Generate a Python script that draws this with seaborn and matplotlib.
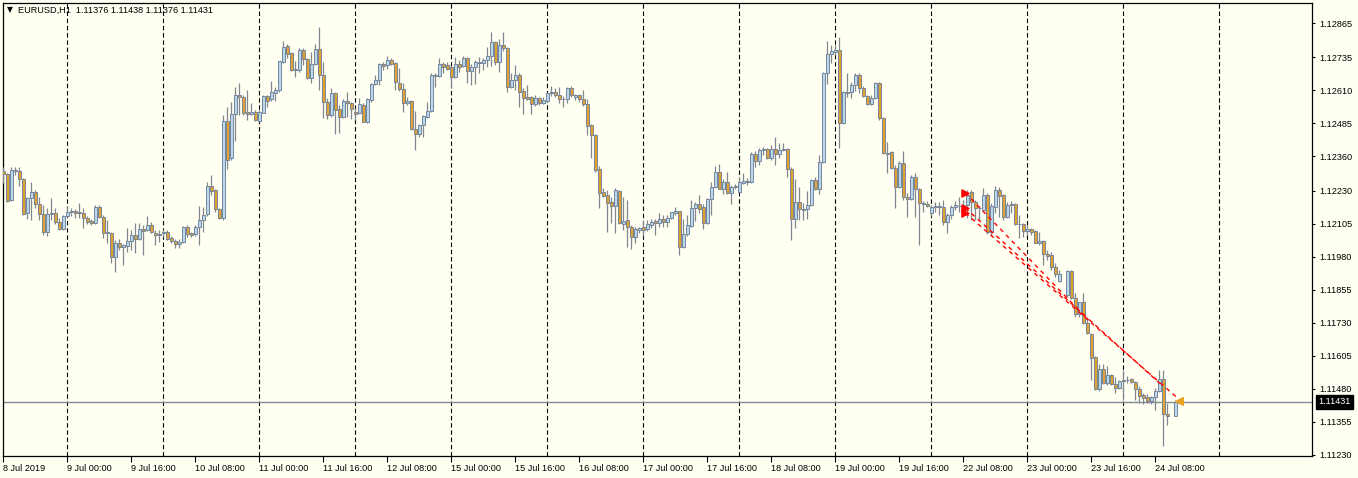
import numpy as np
import pandas as pd
import matplotlib.pyplot as plt
import seaborn as sns

nan = np.nan

# EURUSD H1 candles, 8 Jul 2019 08:00 .. 24 Jul 2019 (one entry per hour, nan = no bar)
opens = [
    1.12305, 1.12294, 1.12195, 1.12309, 1.12305, 1.12275, 1.12146, 1.12203, 1.12225, 1.12180,
    1.12142, 1.12074, 1.12142, 1.12146, 1.12111, 1.12085, 1.12134, 1.12149, 1.12153, 1.12149,
    1.12146, 1.12127, 1.12115, 1.12108, 1.12169, 1.12131, 1.12074, 1.12071, 1.11980, 1.12033,
    1.12018, 1.12021, 1.12040, 1.12063, 1.12048, 1.12085, 1.12082, 1.12100, 1.12071, 1.12063,
    1.12071, 1.12074, 1.12052, 1.12040, 1.12029, 1.12036, 1.12093, 1.12071, 1.12067, 1.12093,
    1.12119, 1.12142, 1.12248, 1.12233, 1.12161, 1.12127, 1.12494, 1.12354, 1.12521, 1.12592,
    1.12585, 1.12528, 1.12521, 1.12528, 1.12494, 1.12525, 1.12588, 1.12577, 1.12600, 1.12611,
    1.12717, 1.12778, 1.12752, 1.12687, 1.12687, 1.12763, 1.12729, 1.12657, 1.12710, 1.12767,
    1.12668, 1.12566, 1.12517, 1.12600, 1.12540, 1.12509, 1.12570, 1.12563, 1.12528, 1.12525,
    1.12555, 1.12490, 1.12574, 1.12634, 1.12649, 1.12710, 1.12706, 1.12725, 1.12714, 1.12638,
    1.12615, 1.12563, 1.12570, 1.12464, 1.12445, 1.12479, 1.12509, 1.12532, 1.12668, 1.12664,
    1.12710, 1.12706, 1.12698, 1.12661, 1.12710, 1.12702, 1.12733, 1.12683, 1.12698, 1.12717,
    1.12714, 1.12725, 1.12740, 1.12793, 1.12717, 1.12782, 1.12770, 1.12623, 1.12649, 1.12668,
    1.12607, 1.12585, 1.12585, 1.12559, 1.12581, 1.12563, 1.12570, 1.12600, 1.12604, 1.12592,
    1.12577, 1.12577, 1.12619, 1.12585, 1.12592, 1.12577, 1.12559, 1.12479, 1.12441, 1.12313,
    1.12225, 1.12214, 1.12187, 1.12172, 1.12229, 1.12104, 1.12119, 1.12093, 1.12056, 1.12082,
    1.12093, 1.12085, 1.12100, 1.12115, 1.12108, 1.12123, 1.12111, 1.12127, 1.12146, 1.12153,
    1.12018, 1.12067, 1.12096, 1.12165, 1.12180, 1.12169, 1.12108, 1.12199, 1.12244, 1.12301,
    1.12237, 1.12263, 1.12222, 1.12244, 1.12225, 1.12260, 1.12263, 1.12263, 1.12369, 1.12343,
    1.12384, 1.12388, 1.12354, 1.12388, 1.12369, 1.12384, 1.12388, 1.12313, 1.12123, 1.12187,
    1.12161, 1.12161, 1.12176, 1.12271, 1.12237, 1.12339, 1.12676, 1.12748, 1.12755, 1.12763,
    1.12487, 1.12604, 1.12604, 1.12630, 1.12668, 1.12619, 1.12588, 1.12559, 1.12581, 1.12638,
    1.12506, 1.12373, 1.12376, 1.12317, 1.12244, 1.12336, 1.12207, 1.12199, 1.12282, 1.12237,
    1.12184, 1.12180, 1.12146, 1.12169, 1.12172, 1.12169, 1.12111, 1.12138, 1.12169, 1.12172,
    1.12172, 1.12176, 1.12225, 1.12187, 1.12165, 1.12157, 1.12214, 1.12074, 1.12169, 1.12233,
    1.12214, 1.12131, 1.12176, 1.12180, 1.12104, 1.12104, 1.12078, 1.12085, 1.12078, 1.12033,
    1.12040, 1.11991, 1.11987, 1.11941, 1.11888, nan, 1.11836, 1.11926, 1.11825, 1.11764,
    1.11809, 1.11730, 1.11688, 1.11601, 1.11480, 1.11556, 1.11503, 1.11533, 1.11499, 1.11484,
    1.11510, 1.11514, 1.11518, 1.11506, 1.11480, 1.11457, 1.11450, 1.11434, 1.11450, 1.11472,
    1.11518, 1.11385, nan, 1.11376,
]
highs = [
    1.12321, 1.12298, 1.12321, 1.12321, 1.12321, 1.12279, 1.12207, 1.12263, 1.12233, 1.12207,
    1.12176, 1.12165, 1.12203, 1.12165, 1.12127, 1.12138, 1.12172, 1.12165, 1.12161, 1.12184,
    1.12165, 1.12134, 1.12123, 1.12176, 1.12176, 1.12138, 1.12119, 1.12074, 1.12044, 1.12048,
    1.12029, 1.12089, 1.12082, 1.12108, 1.12108, 1.12100, 1.12134, 1.12111, 1.12082, 1.12082,
    1.12085, 1.12082, 1.12059, 1.12048, 1.12048, 1.12096, 1.12100, 1.12074, 1.12100, 1.12172,
    1.12169, 1.12263, 1.12290, 1.12237, 1.12165, 1.12517, 1.12548, 1.12566, 1.12623, 1.12638,
    1.12592, 1.12611, 1.12563, 1.12536, 1.12536, 1.12592, 1.12592, 1.12645, 1.12623, 1.12721,
    1.12797, 1.12786, 1.12755, 1.12721, 1.12770, 1.12770, 1.12733, 1.12755, 1.12786, 1.12850,
    1.12717, 1.12581, 1.12619, 1.12604, 1.12555, 1.12577, 1.12604, 1.12566, 1.12544, 1.12581,
    1.12563, 1.12581, 1.12638, 1.12668, 1.12714, 1.12717, 1.12740, 1.12733, 1.12717, 1.12695,
    1.12638, 1.12585, 1.12574, 1.12532, 1.12483, 1.12517, 1.12566, 1.12676, 1.12676, 1.12733,
    1.12717, 1.12717, 1.12698, 1.12736, 1.12725, 1.12740, 1.12736, 1.12710, 1.12725, 1.12736,
    1.12733, 1.12774, 1.12831, 1.12797, 1.12805, 1.12831, 1.12774, 1.12676, 1.12706, 1.12676,
    1.12619, 1.12630, 1.12588, 1.12592, 1.12585, 1.12585, 1.12604, 1.12626, 1.12619, 1.12623,
    1.12588, 1.12623, 1.12626, 1.12596, 1.12596, 1.12611, 1.12577, 1.12483, 1.12445, 1.12324,
    1.12240, 1.12233, 1.12207, 1.12240, 1.12233, 1.12207, 1.12195, 1.12100, 1.12093, 1.12093,
    1.12119, 1.12119, 1.12123, 1.12123, 1.12146, 1.12138, 1.12138, 1.12149, 1.12169, 1.12153,
    1.12123, 1.12138, 1.12195, 1.12187, 1.12214, 1.12180, 1.12203, 1.12263, 1.12324, 1.12332,
    1.12275, 1.12301, 1.12252, 1.12256, 1.12282, 1.12298, 1.12279, 1.12376, 1.12380, 1.12392,
    1.12395, 1.12392, 1.12403, 1.12433, 1.12411, 1.12411, 1.12392, 1.12321, 1.12275, 1.12244,
    1.12184, 1.12229, 1.12275, 1.12282, 1.12365, 1.12679, 1.12797, 1.12782, 1.12782, 1.12812,
    1.12607, 1.12676, 1.12642, 1.12676, 1.12676, 1.12626, 1.12592, 1.12592, 1.12642, 1.12642,
    1.12509, 1.12414, 1.12380, 1.12328, 1.12343, 1.12380, 1.12222, 1.12290, 1.12298, 1.12240,
    1.12191, 1.12191, 1.12176, 1.12187, 1.12187, 1.12195, 1.12146, 1.12176, 1.12191, 1.12207,
    1.12195, 1.12233, 1.12233, 1.12195, 1.12172, 1.12240, 1.12222, 1.12184, 1.12248, 1.12244,
    1.12218, 1.12187, 1.12191, 1.12184, 1.12138, 1.12108, 1.12100, 1.12089, 1.12082, 1.12074,
    1.12044, 1.12006, 1.11998, 1.11957, 1.11930, nan, 1.11930, 1.11930, 1.11844, 1.11809,
    1.11844, 1.11753, 1.11692, 1.11605, 1.11575, 1.11575, 1.11567, 1.11537, 1.11525, 1.11514,
    1.11552, 1.11529, 1.11522, 1.11510, 1.11491, 1.11465, 1.11461, 1.11453, 1.11484, 1.11552,
    1.11552, 1.11427, nan, 1.11438,
]
lows = [
    1.12260, 1.12187, 1.12191, 1.12290, 1.12248, 1.12138, 1.12123, 1.12119, 1.12165, 1.12119,
    1.12063, 1.12059, 1.12119, 1.12104, 1.12082, 1.12082, 1.12131, 1.12134, 1.12127, 1.12127,
    1.12089, 1.12104, 1.12100, 1.12104, 1.12127, 1.12052, 1.12033, 1.11957, 1.11922, 1.12006,
    1.11949, 1.11998, 1.12006, 1.11995, 1.12044, 1.11987, 1.12078, 1.12071, 1.12025, 1.12036,
    1.12056, 1.12044, 1.12033, 1.12014, 1.12014, 1.12033, 1.12056, 1.12056, 1.12059, 1.12025,
    1.12074, 1.12134, 1.12214, 1.12149, 1.12123, 1.12119, 1.12313, 1.12347, 1.12418, 1.12517,
    1.12517, 1.12498, 1.12517, 1.12494, 1.12490, 1.12525, 1.12548, 1.12570, 1.12570, 1.12604,
    1.12714, 1.12733, 1.12683, 1.12661, 1.12679, 1.12706, 1.12653, 1.12638, 1.12706, 1.12611,
    1.12506, 1.12502, 1.12509, 1.12445, 1.12449, 1.12506, 1.12509, 1.12502, 1.12498, 1.12521,
    1.12490, 1.12487, 1.12566, 1.12630, 1.12630, 1.12687, 1.12691, 1.12706, 1.12611, 1.12607,
    1.12528, 1.12555, 1.12460, 1.12384, 1.12434, 1.12434, 1.12506, 1.12528, 1.12623, 1.12661,
    1.12676, 1.12687, 1.12619, 1.12657, 1.12679, 1.12698, 1.12638, 1.12630, 1.12634, 1.12676,
    1.12687, 1.12698, 1.12702, 1.12706, 1.12679, 1.12759, 1.12604, 1.12619, 1.12611, 1.12548,
    1.12521, 1.12574, 1.12521, 1.12551, 1.12555, 1.12559, 1.12566, 1.12588, 1.12585, 1.12563,
    1.12548, 1.12563, 1.12585, 1.12574, 1.12566, 1.12551, 1.12441, 1.12354, 1.12301, 1.12165,
    1.12207, 1.12074, 1.12108, 1.12071, 1.12104, 1.12082, 1.12018, 1.12010, 1.12033, 1.12071,
    1.12059, 1.12078, 1.12089, 1.12063, 1.12093, 1.12093, 1.12093, 1.12123, 1.12138, 1.11987,
    1.12014, 1.12059, 1.12093, 1.12115, 1.12146, 1.12085, 1.12104, 1.12138, 1.12240, 1.12237,
    1.12218, 1.12218, 1.12180, 1.12237, 1.12225, 1.12256, 1.12252, 1.12260, 1.12321, 1.12328,
    1.12365, 1.12350, 1.12347, 1.12328, 1.12354, 1.12380, 1.12282, 1.12044, 1.12089, 1.12119,
    1.12119, 1.12123, 1.12172, 1.12233, 1.12218, 1.12336, 1.12634, 1.12714, 1.12744, 1.12392,
    1.12483, 1.12585, 1.12581, 1.12607, 1.12600, 1.12585, 1.12555, 1.12555, 1.12577, 1.12498,
    1.12369, 1.12298, 1.12313, 1.12165, 1.12240, 1.12195, 1.12131, 1.12195, 1.12131, 1.12025,
    1.12149, 1.12169, 1.12134, 1.12149, 1.12138, 1.12100, 1.12071, 1.12123, 1.12157, 1.12149,
    1.12149, 1.12127, 1.12119, 1.12119, 1.12119, 1.12149, 1.12067, 1.12063, 1.12146, 1.12131,
    1.12119, 1.12127, 1.12146, 1.12100, 1.12052, 1.12056, 1.12063, 1.12063, 1.12033, 1.12025,
    1.11949, 1.11968, 1.11930, 1.11904, 1.11885, nan, 1.11829, 1.11821, 1.11753, 1.11753,
    1.11726, 1.11688, 1.11514, 1.11476, 1.11472, 1.11499, 1.11495, 1.11495, 1.11465, 1.11480,
    1.11438, 1.11503, 1.11503, 1.11438, 1.11427, 1.11423, 1.11427, 1.11423, 1.11400, 1.11468,
    1.11264, 1.11343, nan, 1.11376,
]
closes = [
    1.12294, 1.12191, 1.12309, 1.12305, 1.12275, 1.12142, 1.12203, 1.12225, 1.12180, 1.12142,
    1.12074, 1.12142, 1.12146, 1.12111, 1.12085, 1.12134, 1.12149, 1.12153, 1.12146, 1.12146,
    1.12127, 1.12111, 1.12108, 1.12169, 1.12131, 1.12071, 1.12071, 1.11980, 1.12033, 1.12018,
    1.12025, 1.12040, 1.12063, 1.12048, 1.12085, 1.12078, 1.12100, 1.12074, 1.12063, 1.12067,
    1.12074, 1.12048, 1.12040, 1.12029, 1.12036, 1.12093, 1.12067, 1.12063, 1.12093, 1.12119,
    1.12138, 1.12248, 1.12229, 1.12161, 1.12127, 1.12494, 1.12347, 1.12521, 1.12592, 1.12585,
    1.12525, 1.12521, 1.12528, 1.12498, 1.12528, 1.12588, 1.12570, 1.12604, 1.12611, 1.12721,
    1.12774, 1.12748, 1.12687, 1.12691, 1.12763, 1.12729, 1.12657, 1.12710, 1.12767, 1.12668,
    1.12566, 1.12517, 1.12600, 1.12536, 1.12509, 1.12570, 1.12563, 1.12540, 1.12521, 1.12559,
    1.12490, 1.12577, 1.12634, 1.12649, 1.12710, 1.12702, 1.12725, 1.12710, 1.12642, 1.12615,
    1.12563, 1.12570, 1.12464, 1.12445, 1.12479, 1.12513, 1.12532, 1.12668, 1.12664, 1.12710,
    1.12698, 1.12691, 1.12661, 1.12710, 1.12698, 1.12733, 1.12683, 1.12698, 1.12717, 1.12714,
    1.12725, 1.12740, 1.12793, 1.12717, 1.12782, 1.12770, 1.12623, 1.12649, 1.12668, 1.12604,
    1.12581, 1.12577, 1.12559, 1.12581, 1.12563, 1.12574, 1.12600, 1.12604, 1.12592, 1.12577,
    1.12576, 1.12619, 1.12592, 1.12592, 1.12577, 1.12559, 1.12475, 1.12441, 1.12309, 1.12222,
    1.12210, 1.12184, 1.12172, 1.12233, 1.12108, 1.12115, 1.12093, 1.12056, 1.12085, 1.12089,
    1.12082, 1.12104, 1.12111, 1.12108, 1.12123, 1.12111, 1.12127, 1.12149, 1.12153, 1.12018,
    1.12067, 1.12100, 1.12165, 1.12180, 1.12161, 1.12108, 1.12199, 1.12244, 1.12301, 1.12237,
    1.12263, 1.12222, 1.12244, 1.12248, 1.12263, 1.12267, 1.12267, 1.12369, 1.12343, 1.12384,
    1.12388, 1.12354, 1.12388, 1.12369, 1.12384, 1.12388, 1.12313, 1.12123, 1.12187, 1.12161,
    1.12157, 1.12176, 1.12271, 1.12237, 1.12339, 1.12676, 1.12748, 1.12759, 1.12763, 1.12487,
    1.12604, 1.12600, 1.12630, 1.12668, 1.12619, 1.12588, 1.12559, 1.12581, 1.12638, 1.12506,
    1.12373, 1.12369, 1.12317, 1.12244, 1.12336, 1.12207, 1.12199, 1.12282, 1.12237, 1.12184,
    1.12180, 1.12172, 1.12169, 1.12172, 1.12169, 1.12111, 1.12138, 1.12169, 1.12176, 1.12171,
    1.12176, 1.12214, 1.12187, 1.12165, 1.12164, 1.12214, 1.12074, 1.12172, 1.12233, 1.12210,
    1.12131, 1.12176, 1.12180, 1.12104, 1.12103, 1.12078, 1.12085, 1.12074, 1.12033, 1.12040,
    1.11991, 1.11983, 1.11941, 1.11915, 1.11915, nan, 1.11926, 1.11825, 1.11764, 1.11809,
    1.11730, 1.11692, 1.11598, 1.11480, 1.11556, 1.11503, 1.11533, 1.11499, 1.11484, 1.11510,
    1.11514, 1.11513, 1.11506, 1.11480, 1.11453, 1.11446, 1.11434, 1.11450, 1.11472, 1.11518,
    1.11385, 1.11377, nan, 1.11431,
]

# time axis (bar index of each label) and daily separators
tick_bars = [0, 16, 32, 48, 64, 80, 96, 112, 128, 144, 160, 176, 192, 208, 224, 240, 256, 272, 288]
tick_labels = ['8 Jul 2019', '9 Jul 00:00', '9 Jul 16:00', '10 Jul 08:00', '11 Jul 00:00',
               '11 Jul 16:00', '12 Jul 08:00', '15 Jul 00:00', '15 Jul 16:00', '16 Jul 08:00',
               '17 Jul 00:00', '17 Jul 16:00', '18 Jul 08:00', '19 Jul 00:00', '19 Jul 16:00',
               '22 Jul 08:00', '23 Jul 00:00', '23 Jul 16:00', '24 Jul 08:00']
day_bars = [16, 40, 64, 88, 112, 136, 160, 184, 208, 232, 256, 280, 304]
price_ticks = [1.12865, 1.12735, 1.12610, 1.12485, 1.12360, 1.12230, 1.12105,
               1.11980, 1.11855, 1.11730, 1.11605, 1.11480, 1.11355, 1.11230]
last_price = 1.11431
title = 'EURUSD,H1  1.11376 1.11438 1.11376 1.11431'

# closed trades (arrow at open, dashed line to close)
trade_open_bar = [240.5, 240.5, 240.5]
trade_open_price = [1.12222, 1.12165, 1.12146]
trade_close_bar = [271.25, 289.25, 293.5]
trade_close_price = [1.11741, 1.11499, 1.11446]

bg = '#fffff2'
fs = 6.6
sns.set_theme(style='white', rc={'axes.facecolor': bg, 'figure.facecolor': bg,
                                 'axes.edgecolor': 'black'})
plt.rcParams['font.family'] = ['Liberation Sans', 'DejaVu Sans']

df = pd.DataFrame({'open': opens, 'high': highs, 'low': lows, 'close': closes})
df['bar'] = np.arange(len(df))
df = df.dropna()
up = df[df['close'] >= df['open']]
down = df[df['close'] < df['open']]

fig = plt.figure(figsize=(13.58, 4.78), dpi=100)
ax = fig.add_axes([3 / 1358, 22 / 478, 1309 / 1358, 453 / 478])

for b in day_bars:
    ax.axvline(b, color='black', lw=0.8, ls=(0, (4, 2.5)), zorder=1)
ax.axhline(last_price, color='#7f8c98', lw=1.0, zorder=2)

# candles
ax.vlines(df['bar'], df['low'], df['high'], color='#80878f', lw=0.9, zorder=3)
for part, fill in ((up, '#b8d8ee'), (down, '#e0a230')):
    ax.bar(part['bar'], (part['close'] - part['open']).abs(),
           bottom=np.minimum(part['open'], part['close']), width=0.75,
           color=fill, edgecolor='#76859a', linewidth=0.7, zorder=4)

# trades
for x0, y0, x1, y1 in zip(trade_open_bar, trade_open_price, trade_close_bar, trade_close_price):
    ax.plot([x0, x1], [y0, y1], color='red', lw=1.0, ls=(0, (3, 3)), zorder=5)
ax.scatter(trade_open_bar, trade_open_price, marker='>', s=26, color='red', zorder=6)
ax.scatter([trade_close_bar[-1] + 0.4], [last_price + 0.00004], marker='<', s=30,
           color='#e8a020', zorder=6)

ax.set_xlim(-0.1, 327.15)
ax.set_ylim(1.11226, 1.12941)
ax.grid(False)
for s in ax.spines.values():
    s.set_color('black')
    s.set_linewidth(0.9)

ax.set_xticks(tick_bars)
ax.set_xticklabels(tick_labels, ha='left', fontsize=fs)
ax.yaxis.tick_right()
ax.set_yticks(price_ticks)
ax.set_yticklabels([f'{v:.5f}' for v in price_ticks], fontsize=fs)
ax.tick_params(axis='x', bottom=True, direction='out', length=4, width=0.8, pad=2,
               colors='black')
ax.tick_params(axis='y', right=True, left=False, direction='out', length=2.5, width=0.8,
               pad=2.5, colors='black')

# current price tag on the price scale
ax.annotate(f'{last_price:.5f}', xy=(1.0, last_price), xycoords=('axes fraction', 'data'),
            xytext=(4.5, 0), textcoords='offset points', ha='left', va='center',
            fontsize=fs, color='white',
            bbox=dict(boxstyle='square,pad=0.3', facecolor='black', edgecolor='black'))

fig.text(7 / 1358, 1 - 10 / 478, '\u25bc', fontsize=5.5, va='center', ha='left',
         color='black', family='DejaVu Sans')
fig.text(18 / 1358, 1 - 10 / 478, title, fontsize=fs, va='center', ha='left', color='black')

fig.savefig('out.png', dpi=100, facecolor=bg)
